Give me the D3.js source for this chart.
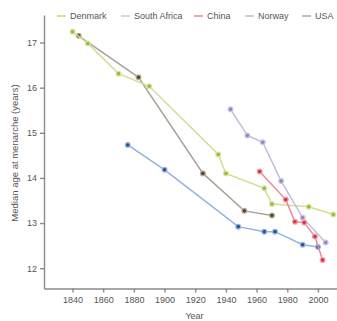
<!DOCTYPE html>
<html>
<head>
<meta charset="utf-8">
<script src="https://cdn.jsdelivr.net/npm/d3@7"></script>
<style>
  body { margin: 0; background: #fff; }
  text { font-family: "Liberation Sans", Arial, sans-serif; fill: #555; }
  .axis path, .axis line { stroke: #8a8a8a; stroke-width: 1.4; }
</style>
</head>
<body>
<div id="chart"></div>
<script>
// data
var denmarkYears = [1840, 1850, 1870, 1890, 1935, 1940, 1965, 1970, 1994, 2010];
var denmarkAges = [17.24, 16.98, 16.31, 16.03, 14.52, 14.1, 13.77, 13.42, 13.36, 13.19];

var norwayYears = [1844, 1883, 1925, 1952, 1970];
var norwayAges = [17.15, 16.23, 14.1, 13.27, 13.17];

var southAfricaYears = [1876, 1900, 1948, 1965, 1972, 1990, 2000];
var southAfricaAges = [14.73, 14.18, 12.92, 12.81, 12.81, 12.52, 12.47];

var chinaYears = [1962, 1979, 1985, 1991, 1998, 2003];
var chinaAges = [14.14, 13.52, 13.03, 13.01, 12.7, 12.18];

var usaYears = [1943, 1954, 1964, 1976, 1990, 2005];
var usaAges = [15.52, 14.94, 14.79, 13.93, 13.12, 12.57];

var xTicks = [1840, 1860, 1880, 1900, 1920, 1940, 1960, 1980, 2000];
var yTicks = [12, 13, 14, 15, 16, 17];

var legendNames = ['Denmark', 'South Africa', 'China', 'Norway', 'USA'];

var zip = (ys, as) => ys.map((y, i) => ({ year: y, age: as[i] }));

var series = [
  { name: 'Norway', line: '#aaa39b', dot: '#5b4326', halo: '#b9ad9c', values: zip(norwayYears, norwayAges) },
  { name: 'Denmark', line: '#d6dc92', dot: '#93bd3e', halo: '#d4e6a0', values: zip(denmarkYears, denmarkAges) },
  { name: 'South Africa', line: '#93b3de', dot: '#27539f', halo: '#9db7e0', values: zip(southAfricaYears, southAfricaAges) },
  { name: 'USA', line: '#c3bcdd', dot: '#9088c6', halo: '#cdc6e6', values: zip(usaYears, usaAges) },
  { name: 'China', line: '#ea8a98', dot: '#e0303f', halo: '#f0a0a8', values: zip(chinaYears, chinaAges) }
];

var legendColors = {
  'Denmark': '#ccd57a',
  'South Africa': '#c9ccd2',
  'China': '#e58a92',
  'Norway': '#bcc2b4',
  'USA': '#a9a6c6'
};

var width = 337, height = 321;
var margins = { top: 15, right: 0, bottom: 33, left: 44 };

var svg = d3.select('#chart')
  .append('svg')
  .attr('width', width)
  .attr('height', height);

var xScale = d3.scaleLinear()
  .domain([1821.4, 2012.4])
  .range([margins.left, width - margins.right]);

var yScale = d3.scaleLinear()
  .domain([11.55, 17.61])
  .range([height - margins.bottom + 0.5, margins.top]);

// axes
var xAxis = d3.axisBottom(xScale)
  .tickValues(xTicks)
  .tickFormat(d3.format('d'))
  .tickSize(4)
  .tickSizeOuter(0)
  .tickPadding(4);

var yAxis = d3.axisLeft(yScale)
  .tickValues(yTicks)
  .tickFormat(d3.format('d'))
  .tickSize(4)
  .tickSizeOuter(0)
  .tickPadding(3);

svg.append('g')
  .attr('class', 'x axis')
  .attr('transform', `translate(0,${yScale.range()[0]})`)
  .call(xAxis)
  .selectAll('text')
  .style('font-size', '9px');

svg.append('g')
  .attr('class', 'y axis')
  .attr('transform', `translate(${margins.left},0)`)
  .call(yAxis)
  .selectAll('text')
  .style('font-size', '9px');

// axis titles
svg.append('text')
  .attr('x', (margins.left + width) / 2 + 4)
  .attr('y', 319)
  .attr('text-anchor', 'middle')
  .style('font-size', '9px')
  .text('Year');

svg.append('text')
  .attr('transform', 'translate(18,153) rotate(-90)')
  .attr('text-anchor', 'middle')
  .style('font-size', '9.5px')
  .text('Median age at menarche (years)');

// lines
var line = d3.line()
  .x(d => xScale(d.year))
  .y(d => yScale(d.age));

var groups = svg.append('g')
  .attr('class', 'lines')
  .selectAll('g')
  .data(series)
  .enter()
  .append('g');

groups.append('path')
  .attr('fill', 'none')
  .attr('stroke', d => d.line)
  .attr('stroke-width', 1.5)
  .attr('d', d => line(d.values));

groups.each(function(s) {
  d3.select(this)
    .selectAll('circle')
    .data(s.values)
    .enter()
    .append('circle')
    .attr('cx', d => xScale(d.year))
    .attr('cy', d => yScale(d.age))
    .attr('r', 2.4)
    .attr('fill', s.dot)
    .attr('stroke', s.halo)
    .attr('stroke-width', 1.2);
});

// legend
var legendX = [57, 121, 194, 245, 302];

var legend = svg.append('g')
  .attr('class', 'legend')
  .selectAll('g')
  .data(legendNames)
  .enter()
  .append('g')
  .attr('transform', (d, i) => `translate(${legendX[i]},16)`);

legend.append('line')
  .attr('x1', 0)
  .attr('x2', 9)
  .attr('stroke', d => legendColors[d])
  .attr('stroke-width', 1.5);

legend.append('text')
  .attr('x', 13)
  .attr('y', 3.2)
  .style('font-size', '9px')
  .text(d => d);
</script>
</body>
</html>
